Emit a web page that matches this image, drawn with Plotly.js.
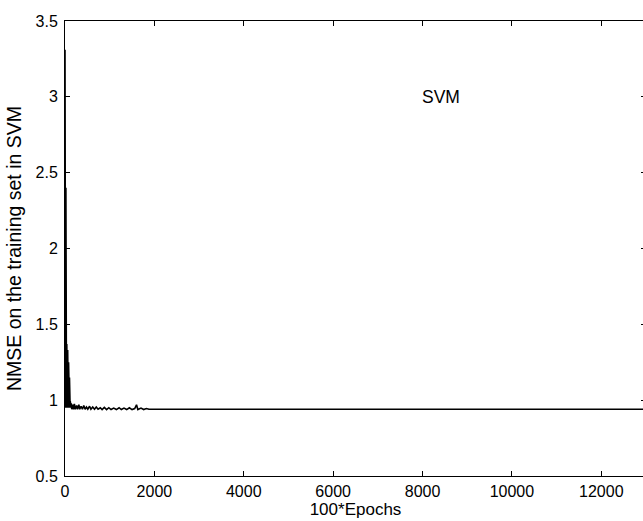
<!DOCTYPE html>
<html>
<head>
<meta charset="utf-8">
<script src="https://cdn.plot.ly/plotly-3.0.1.min.js"></script>
<style>
  html, body { margin: 0; padding: 0; background: #fff; overflow: hidden; }
  #chart { width: 650px; height: 521px; }
</style>
</head>
<body>
<div id="chart"></div>
<script>
// Training-set NMSE of the SVM, sampled every 100 epochs
const epochs = [
  0, 3, 5, 8, 10, 13, 15, 18, 20, 23, 25, 28, 30, 33, 35, 38, 40, 43, 45, 48,
  50, 53, 55, 58, 60, 63, 65, 68, 70, 73, 75, 78, 80, 83, 85, 88, 90, 93, 95, 98,
  100, 103, 105, 108, 110, 115, 120, 130,
  140, 150, 170, 190, 210, 230, 260, 280, 310, 330, 360, 390, 420, 450, 480, 510,
  550, 580, 620, 660, 700, 740, 790, 830, 880, 930, 980, 1030, 1090, 1150, 1210,
  1260, 1320, 1380, 1440, 1500, 1560, 1600, 1630, 1700, 1760, 1820, 1880, 13000
];
const nmse = [
  3.31, 0.95, 3.25, 0.96, 3.05, 0.95, 2.80, 0.97, 2.40, 0.95, 1.95, 0.96, 1.40, 0.95, 1.38, 0.96, 1.37, 0.95, 1.36, 0.97,
  1.35, 0.95, 1.34, 0.96, 1.33, 0.95, 1.30, 0.96, 1.30, 0.95, 1.28, 0.96, 1.25, 0.95, 1.22, 0.96, 1.20, 0.95, 1.18, 0.95,
  1.15, 0.95, 1.10, 0.95, 1.02, 0.95, 0.99, 0.95,
  0.98, 0.94, 0.97, 0.94, 0.975, 0.94, 0.965, 0.94, 0.97, 0.94, 0.96, 0.94, 0.965, 0.94, 0.955, 0.94,
  0.96, 0.94, 0.955, 0.94, 0.955, 0.94, 0.95, 0.938, 0.952, 0.938, 0.95, 0.938, 0.948, 0.938, 0.95,
  0.938, 0.948, 0.938, 0.95, 0.938, 0.945, 0.97, 0.938, 0.948, 0.938, 0.945, 0.94, 0.94
];

const xTicks = [0, 2000, 4000, 6000, 8000, 10000, 12000];
const yTicks = [0.5, 1, 1.5, 2, 2.5, 3, 3.5];
const yTickText = ['0.5', '1', '1.5', '2', '2.5', '3', '3.5'];

const family = 'Liberation Sans, Arial, sans-serif';
const tickFont = { family: family, size: 16, color: '#000' };

const axisCommon = {
  showline: true, linecolor: '#000', linewidth: 1,
  mirror: 'allticks', ticks: 'inside', ticklen: 5, tickcolor: '#000', tickwidth: 1,
  showgrid: false, zeroline: false, tickfont: tickFont
};

const trace = {
  x: epochs, y: nmse, type: 'scatter', mode: 'lines',
  line: { color: '#000', width: 1.6 }, hoverinfo: 'skip'
};

const layout = {
  width: 650, height: 521,
  margin: { l: 65, r: 4, t: 21, b: 45 },
  paper_bgcolor: '#fff', plot_bgcolor: '#fff',
  showlegend: false, font: tickFont,
  xaxis: Object.assign({}, axisCommon, {
    range: [0, 13000], tickvals: xTicks, ticktext: xTicks.map(String),
    ticklabelstandoff: 1,
    title: { text: '100*Epochs', font: { family: family, size: 17, color: '#000' }, standoff: 3 }
  }),
  yaxis: Object.assign({}, axisCommon, {
    range: [0.5, 3.5], tickvals: yTicks, ticktext: yTickText,
    ticklabelstandoff: 3,
    title: { text: 'NMSE on the training set in SVM', font: { family: family, size: 19.5, color: '#000' }, standoff: 8 }
  }),
  annotations: [{
    x: 8420, y: 3.0, xref: 'x', yref: 'y', text: 'SVM', showarrow: false,
    font: { family: family, size: 17.5, color: '#000' }
  }]
};

Plotly.newPlot('chart', [trace], layout, { staticPlot: true, displayModeBar: false });
</script>
</body>
</html>
